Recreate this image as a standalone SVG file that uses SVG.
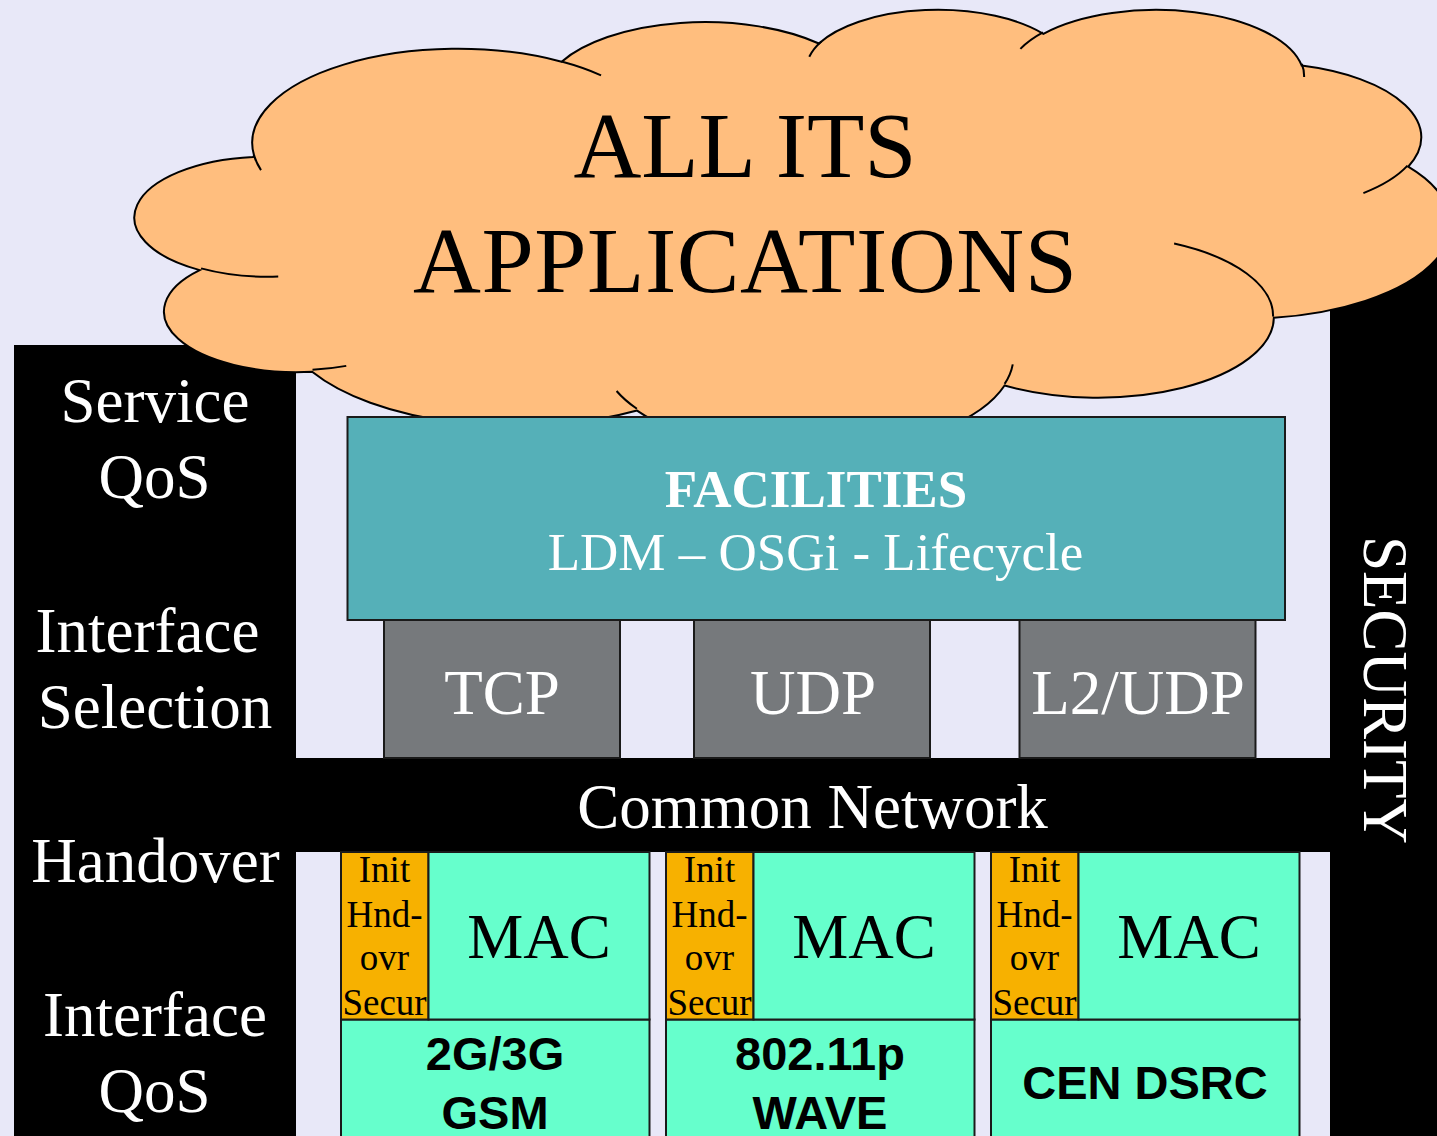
<svg xmlns="http://www.w3.org/2000/svg" width="1437" height="1136" viewBox="0 0 1437 1136">
  <style>
    .serif { font-family: "Liberation Serif", "Times New Roman", serif; }
    .sans { font-family: "Liberation Sans", Arial, sans-serif; font-weight: bold; }
    .wt { fill: #ffffff; }
    .bk { fill: #000000; }
    .side { font-size: 63px; text-anchor: middle; }
    .box { stroke: #1a1a1a; stroke-width: 2; }
    .teal { fill: #55B0B8; }
    .gray { fill: #76797C; }
    .green { fill: #66FFCC; }
    .orange { fill: #F7B100; }
    .small { font-size: 37px; text-anchor: middle; }
    .mac { font-size: 63px; text-anchor: middle; }
    .phy { font-size: 47px; text-anchor: middle; }
    .proto { font-size: 63px; text-anchor: middle; }
    .cloudline { fill: none; stroke: #000; stroke-width: 2; vector-effect: non-scaling-stroke; }
  </style>
  <rect x="0" y="0" width="1437" height="1136" fill="#E8E8F8"/>

  <!-- side bars -->
  <g id="left-bar">
    <rect x="14" y="345" width="282" height="791" fill="#000"/>
  </g>
  <g id="security">
    <rect x="1330" y="230" width="107" height="906" fill="#000"/>
    <text class="serif wt" font-size="63" text-anchor="middle" transform="translate(1364,690) rotate(90)">SECURITY</text>
  </g>
  <g id="common-network">
    <rect x="296" y="758" width="1034" height="94" fill="#000"/>
    <text class="serif wt" font-size="63" text-anchor="middle" x="812.5" y="828">Common Network</text>
  </g>

  <!-- cloud -->
  <g id="applications">
    <g transform="translate(135.4,8.4) scale(0.030435,0.010243)">
      <path fill="#FFBE7E" stroke="#000" stroke-width="2" vector-effect="non-scaling-stroke" d="M 3900 14370 A 6753 9190 0 0 1 14005 5202 A 5333 7267 0 0 1 22457 3429 A 4365 5945 0 0 1 29834 2477 A 4857 6595 0 0 1 38319 5573 A 5333 7273 0 0 1 41820 15457 A 6775 9220 0 0 1 37406 30200 A 5785 7867 0 0 1 28558 36811 A 6752 9215 0 0 1 16483 39262 A 7720 10543 0 0 1 5807 35471 A 4360 5918 0 0 1 2114 25551 A 4345 5945 0 0 1 3866 14507 Z"/>
      <path class="cloudline" d="M 4693 26177 A 4345 5945 0 0 1 2159 25380 M 6928 34899 A 4360 5918 0 0 1 5819 35281 M 16478 39090 A 6752 9215 0 0 1 15810 37350 M 28827 34751 A 6752 9215 0 0 1 28560 36660 M 34129 22954 A 5785 7867 0 0 1 37381 30090 M 41798 15354 A 5333 7273 0 0 1 40348 18032 M 38324 5426 A 4857 6595 0 0 1 38400 6690 M 29078 3952 A 4857 6595 0 0 1 29820 2340 M 22141 4720 A 4365 5945 0 0 1 22539 3226 M 14000 5192 A 6753 9190 0 0 1 15300 6540 M 4127 15789 A 6753 9190 0 0 1 3900 14372"/>
    </g>
    <text class="serif bk" font-size="94" text-anchor="middle" x="745" y="177" textLength="343">ALL ITS</text>
    <text class="serif bk" font-size="94" text-anchor="middle" x="745" y="292" textLength="664">APPLICATIONS</text>
  </g>

  <!-- left labels -->
  <g id="left-labels" class="serif wt">
    <text class="side" x="155" y="422">Service</text>
    <text class="side" x="154.5" y="498">QoS</text>
    <text class="side" x="147.5" y="652">Interface</text>
    <text class="side" x="155" y="728">Selection</text>
    <text class="side" x="155.5" y="882">Handover</text>
    <text class="side" x="155" y="1036">Interface</text>
    <text class="side" x="154.5" y="1112">QoS</text>
  </g>

  <!-- facilities -->
  <g id="facilities">
    <rect class="box teal" x="347.5" y="417" width="937.5" height="203"/>
    <text class="serif wt" font-size="53" font-weight="bold" text-anchor="middle" x="816" y="507">FACILITIES</text>
    <text class="serif wt" font-size="53" text-anchor="middle" x="815.5" y="570">LDM – OSGi - Lifecycle</text>
  </g>

  <!-- transport -->
  <g id="tcp">
    <rect class="box gray" x="384" y="620" width="236" height="138"/>
    <text class="serif wt proto" x="502" y="714">TCP</text>
  </g>
  <g id="udp">
    <rect class="box gray" x="694" y="620" width="236" height="138"/>
    <text class="serif wt proto" x="813" y="714">UDP</text>
  </g>
  <g id="l2udp">
    <rect class="box gray" x="1019.5" y="620" width="236" height="138"/>
    <text class="serif wt proto" x="1138" y="714">L2/UDP</text>
  </g>

  <!-- access technologies -->
  <g id="gsm">
    <rect class="box green" x="341" y="1019.5" width="308.5" height="130"/>
    <rect class="box orange" x="341" y="852" width="87.5" height="167.5"/>
    <rect class="box green" x="428.5" y="852" width="221" height="167.5"/>
    <g class="serif bk small">
      <text x="384.5" y="882">Init</text>
      <text x="384.5" y="927">Hnd-</text>
      <text x="384.5" y="970">ovr</text>
      <text x="384.5" y="1015">Secur</text>
    </g>
    <text class="serif bk mac" x="539" y="958">MAC</text>
    <text class="sans bk phy" x="495" y="1070">2G/3G</text>
    <text class="sans bk phy" x="495" y="1129">GSM</text>
  </g>
  <g id="wave">
    <rect class="box green" x="666" y="1019.5" width="308.5" height="130"/>
    <rect class="box orange" x="666" y="852" width="87.5" height="167.5"/>
    <rect class="box green" x="753.5" y="852" width="221" height="167.5"/>
    <g class="serif bk small">
      <text x="709.5" y="882">Init</text>
      <text x="709.5" y="927">Hnd-</text>
      <text x="709.5" y="970">ovr</text>
      <text x="709.5" y="1015">Secur</text>
    </g>
    <text class="serif bk mac" x="864" y="958">MAC</text>
    <text class="sans bk phy" x="820" y="1070">802.11p</text>
    <text class="sans bk phy" x="820" y="1129">WAVE</text>
  </g>
  <g id="dsrc">
    <rect class="box green" x="991" y="1019.5" width="308.5" height="130"/>
    <rect class="box orange" x="991" y="852" width="87.5" height="167.5"/>
    <rect class="box green" x="1078.5" y="852" width="221" height="167.5"/>
    <g class="serif bk small">
      <text x="1034.5" y="882">Init</text>
      <text x="1034.5" y="927">Hnd-</text>
      <text x="1034.5" y="970">ovr</text>
      <text x="1034.5" y="1015">Secur</text>
    </g>
    <text class="serif bk mac" x="1189" y="958">MAC</text>
    <text class="sans bk phy" x="1145" y="1099">CEN DSRC</text>
  </g>

  <g id="connectors"/>
</svg>
